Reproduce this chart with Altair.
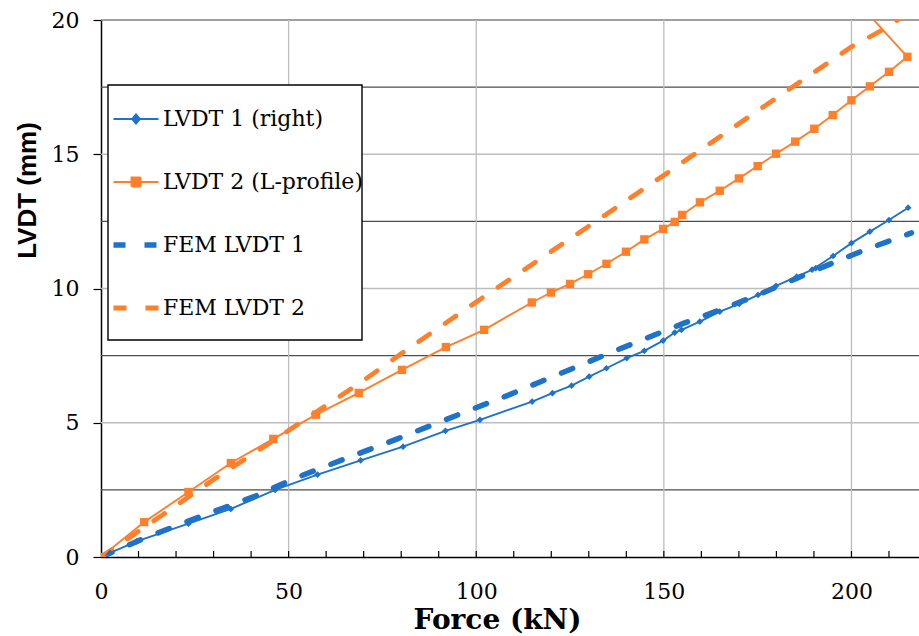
import altair as alt
import pandas as pd

# ---------------- data ----------------
series_names = ["LVDT 1 (right)", "LVDT 2 (L-profile)", "FEM LVDT 1", "FEM LVDT 2"]
series_colors = ["#1f72c9", "#ff7f2a", "#1f72c9", "#ff7f2a"]

lvdt1_force = [0, 2.4, 9.5, 23.3, 34.6, 46.4, 57.7, 69.2, 80.5, 91.8, 101.0, 114.9, 120.3,
               125.4, 130.1, 134.7, 140.1, 144.8, 149.8, 152.9, 154.7, 159.6, 164.9, 170.1,
               175.1, 179.9, 185.4, 190.5, 189.5, 195.1, 200.0, 204.9, 210.0, 215.1]
lvdt1_disp = [0, 0.15, 0.58, 1.24, 1.79, 2.50, 3.07, 3.60, 4.11, 4.70, 5.11, 5.79, 6.10,
              6.38, 6.72, 7.03, 7.41, 7.68, 8.06, 8.36, 8.46, 8.77, 9.14, 9.43,
              9.76, 10.10, 10.44, 10.76, 10.70, 11.21, 11.69, 12.12, 12.55, 13.01]

lvdt2_force = [0, 11.5, 23.3, 34.6, 45.9, 57.3, 68.7, 80.2, 91.9, 102.1, 114.8, 119.9, 125.0,
               129.8, 134.7, 139.9, 144.8, 149.8, 152.9, 154.9, 159.6, 164.9, 170.0, 175.0,
               179.9, 185.0, 190.1, 195.0, 200.0, 204.9, 210.0, 214.9, 204.0]
lvdt2_disp = [0, 1.30, 2.42, 3.50, 4.40, 5.30, 6.11, 6.97, 7.82, 8.46, 9.48, 9.85, 10.17,
              10.53, 10.92, 11.37, 11.83, 12.22, 12.48, 12.74, 13.21, 13.64, 14.10, 14.56,
              15.02, 15.47, 15.95, 16.46, 17.01, 17.53, 18.07, 18.63, 20.30]

fem1_force = [0, 11.7, 21.5, 31.3, 41.0, 50.8, 59.7, 69.0, 78.8, 88.5, 98.3, 107.2, 117.0,
              126.7, 136.1, 145.4, 155.2, 165.8, 175.1, 184.9, 193.8, 203.6, 213.3, 216.0]
fem1_disp = [0, 0.71, 1.24, 1.76, 2.26, 2.88, 3.37, 3.87, 4.39, 4.93, 5.47, 5.95, 6.52,
             7.08, 7.63, 8.15, 8.70, 9.25, 9.76, 10.35, 10.88, 11.44, 11.93, 12.07]

fem2_force = [0, 16.2, 30.4, 45.5, 69.0, 80.6, 100.0, 125.0, 150.0, 175.0, 200.0, 208.5, 216.0]
fem2_disp = [0, 1.55, 2.92, 4.30, 6.48, 7.63, 9.50, 11.85, 14.22, 16.62, 19.00, 19.65, 20.35]

x_label_values = [0, 50, 100, 150, 200]
y_label_values = [0, 5, 10, 15, 20]
x_minor_ticks = [10, 20, 30, 40, 50, 60, 70, 80, 90, 100, 110, 120, 130, 140, 150, 160,
                 170, 180, 190, 200, 210]
grid_x = [50, 100, 150, 200]
grid_y_light = [5, 10, 15]
grid_y_dark = [2.5, 7.5, 12.5, 17.5]
grid_y_top = [20]


def frame(force, disp, name):
    return pd.DataFrame({"force": force, "disp": disp, "series": name,
                         "idx": list(range(len(force)))})


d1 = frame(lvdt1_force, lvdt1_disp, series_names[0])
d2 = frame(lvdt2_force, lvdt2_disp, series_names[1])
d3 = frame(fem1_force, fem1_disp, series_names[2])
d4 = frame(fem2_force, fem2_disp, series_names[3])
legend_df = pd.DataFrame({"series": series_names})

W, H = 818, 537
xs = alt.Scale(domain=[0, 218], nice=False, zero=False)
ys = alt.Scale(domain=[0, 20], nice=False)

SERIF = "DejaVu Serif"

x_axis = alt.Axis(values=x_label_values, title="Force (kN)", ticks=False, grid=False,
                  domainColor="black", domainWidth=1.5, labelFont=SERIF, labelFontSize=22,
                  labelColor="black", labelPadding=24, labelFlush=False,
                  titleFont=SERIF, titleFontSize=28, titleFontWeight="bold", titleColor="black",
                  titleX=396, titleY=63, titleBaseline="middle", titleAlign="center")
y_axis = alt.Axis(values=y_label_values, title="LVDT  (mm)", grid=False,
                  domainColor="black", domainWidth=1.5, tickColor="black", tickSize=8,
                  tickWidth=1.2, labelFont=SERIF, labelFontSize=22, labelColor="black",
                  labelPadding=14, labelFlush=False,
                  titleFont="Liberation Sans", titleFontSize=26, titleFontWeight="bold",
                  titleColor="black", titleX=-74, titleY=170, titleAngle=-90,
                  titleBaseline="middle", titleAlign="center")


def X(field):
    return alt.X(field, scale=xs, axis=x_axis)


def Y(field):
    return alt.Y(field, scale=ys, axis=y_axis)


# grid lines
g_light = alt.Chart(pd.DataFrame({"v": grid_y_light})).mark_rule(
    color="#bdbdbd", strokeWidth=1.3).encode(y=Y("v:Q"))
g_dark = alt.Chart(pd.DataFrame({"v": grid_y_dark})).mark_rule(
    color="#4d4d4d", strokeWidth=1.3).encode(y=Y("v:Q"))
g_top = alt.Chart(pd.DataFrame({"v": grid_y_top})).mark_rule(
    color="#808080", strokeWidth=1.3).encode(y=Y("v:Q"))
g_vert = alt.Chart(pd.DataFrame({"v": grid_x})).mark_rule(
    color="#bdbdbd", strokeWidth=1.3).encode(x=X("v:Q"))

minor = alt.Chart(pd.DataFrame({"v": x_minor_ticks})).mark_rule(
    color="black", strokeWidth=1.2).encode(
    x=X("v:Q"), y=alt.value(H), y2=alt.value(H - 6))


def line_layer(df, color, width, dash=None):
    kw = dict(color=color, strokeWidth=width, clip=True)
    if dash:
        kw["strokeDash"] = dash
        kw["strokeCap"] = "round"
    return alt.Chart(df).mark_line(**kw).encode(
        x=X("force:Q"), y=Y("disp:Q"), order="idx:Q")


fem1_line = line_layer(d3, series_colors[2], 5.5, [12, 19])
fem2_line = line_layer(d4, series_colors[3], 4.8, [13, 19])
l1_line = line_layer(d1, series_colors[0], 1.9)
l2_line = line_layer(d2, series_colors[1], 1.9)

p1 = alt.Chart(d1).mark_point(shape="diamond", filled=True, size=45, opacity=1,
                              color=series_colors[0], clip=True).encode(
    x=X("force:Q"), y=Y("disp:Q"))
p2 = alt.Chart(d2).mark_point(shape="square", filled=True, size=70, opacity=1,
                              color=series_colors[1], clip=True).encode(
    x=X("force:Q"), y=Y("disp:Q"))

# legend frame (white box with black border)
legend_box = alt.Chart(legend_df.head(1)).mark_rect(
    fill="white", stroke="black", strokeWidth=1.4).encode(
    x=alt.value(7), x2=alt.value(261), y=alt.value(65), y2=alt.value(320))

# legend (invisible marks, clipped outside the plot; only the legend is shown)
sym_paths = ["M-1,0H1M0,-0.2L0.17,0L0,0.2L-0.17,0Z",
             "M-1,0H1M-0.2,-0.2H0.2V0.2H-0.2Z",
             "M-1,0H1",
             "M-1,0H1"]
sw_expr = ("datum.value == 'FEM LVDT 1' ? 5.5 : "
           "(datum.value == 'FEM LVDT 2' ? 4.8 : 2)")
leg = alt.Legend(title=None, orient="none", legendX=7, legendY=88,
                 padding=0, rowPadding=41, labelOffset=16, symbolOffset=17,
                 labelFont=SERIF, labelFontSize=22, labelColor="black", labelLimit=400,
                 symbolSize=2025, symbolOpacity=1,
                 symbolStrokeWidth={"expr": sw_expr})
sdom = dict(domain=series_names)
legend_layer = alt.Chart(legend_df).mark_point(
    clip=True, filled=False, opacity=1).transform_calculate(
    fx="-100", fy="-100").encode(
    x=X("fx:Q"),
    y=Y("fy:Q"),
    stroke=alt.Stroke("series:N", scale=alt.Scale(range=series_colors, **sdom), legend=leg),
    fill=alt.Fill("series:N", scale=alt.Scale(range=series_colors, **sdom), legend=leg),
    shape=alt.Shape("series:N", scale=alt.Scale(range=sym_paths, **sdom), legend=leg),
    strokeDash=alt.StrokeDash("series:N", scale=alt.Scale(
        range=[[1, 0], [1, 0], [12, 19], [13, 19]], **sdom), legend=leg),
)

chart = alt.layer(
    g_light, g_dark, g_top, g_vert, minor,
    fem1_line, fem2_line, l1_line, l2_line, p1, p2, legend_box, legend_layer
).properties(
    width=W, height=H,
    autosize=alt.AutoSizeParams(type="none"),
    padding={"left": 101, "top": 20, "right": 0, "bottom": 79},
    background="white",
).configure_view(stroke=None)

chart.save("out.html", embed_options={"renderer": "svg", "actions": False})
